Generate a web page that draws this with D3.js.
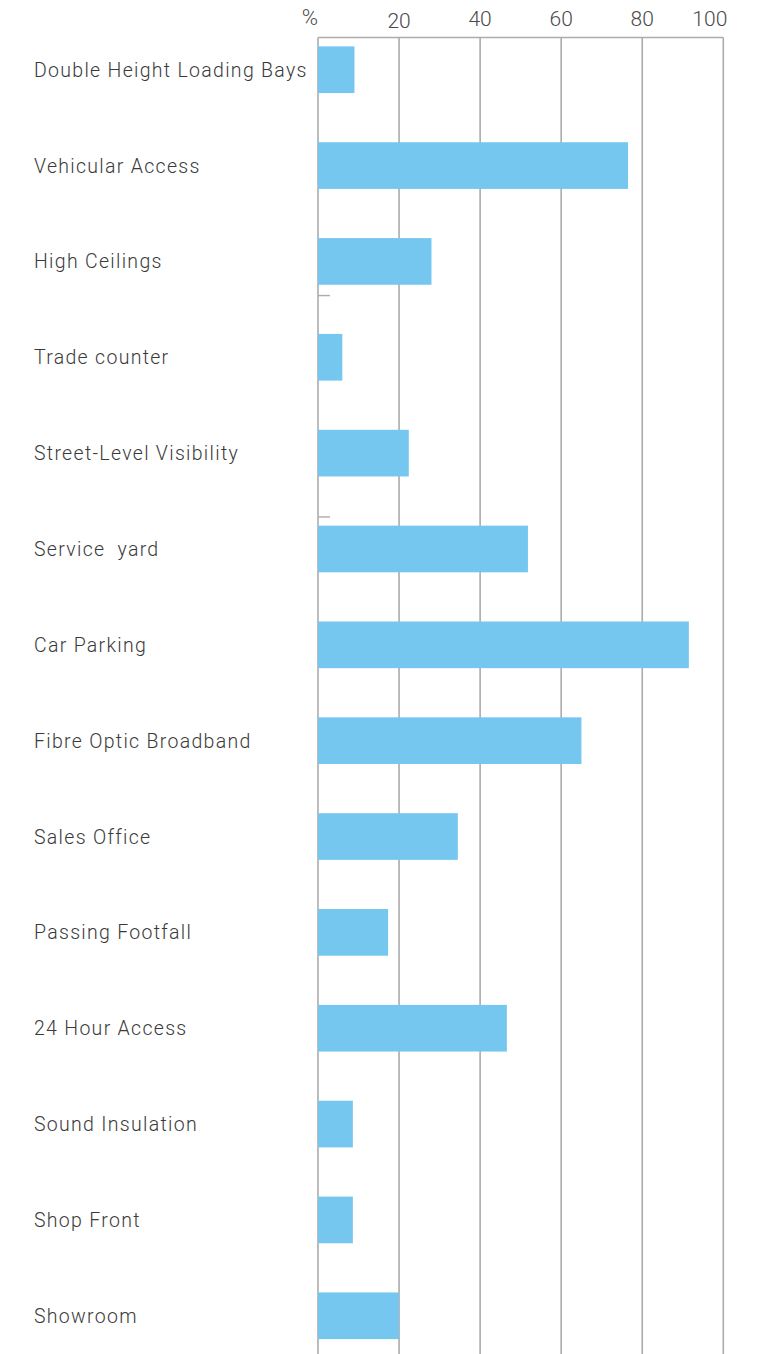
<!DOCTYPE html>
<html>
<head>
<meta charset="utf-8">
<script src="https://cdn.jsdelivr.net/npm/d3@7"></script>
<style>
  html, body { margin: 0; padding: 0; background: #fff; }
  svg { display: block; }
</style>
</head>
<body>
<svg id="chart" width="760" height="1354"></svg>
<script>
// Facility features and the share of respondents (%) who want each one
const categories = [
  "Double Height Loading Bays",
  "Vehicular Access",
  "High Ceilings",
  "Trade counter",
  "Street-Level Visibility",
  "Service  yard",
  "Car Parking",
  "Fibre Optic Broadband",
  "Sales Office",
  "Passing Footfall",
  "24 Hour Access",
  "Sound Insulation",
  "Shop Front",
  "Showroom"
];
const values = [9, 76.5, 28, 6, 22.4, 51.8, 91.5, 65, 34.5, 17.3, 46.6, 8.6, 8.6, 20];
const tickValues = [20, 40, 60, 80, 100];
const unitLabel = "%";

const svg = d3.select("#chart");
const chartH = 1354;
const plotLeft = 318, plotRight = 723.3, plotTop = 37.5;

const x = d3.scaleLinear().domain([0, 100]).range([plotLeft, plotRight]);
const y = d3.scaleBand()
  .domain(categories)
  .range([21.8, 21.8 + 95.85 * categories.length])
  .paddingInner(0.513)
  .paddingOuter(0.2565);

const gridColor = "#acacac";

// vertical grid lines including the zero line
svg.append("g")
  .selectAll("line")
  .data([0].concat(tickValues))
  .join("line")
  .attr("x1", d => x(d)).attr("x2", d => x(d))
  .attr("y1", plotTop).attr("y2", chartH)
  .attr("stroke", gridColor)
  .attr("stroke-width", 1.6);

// top baseline
svg.append("line")
  .attr("x1", x(0)).attr("x2", x(100))
  .attr("y1", plotTop).attr("y2", plotTop)
  .attr("stroke", gridColor)
  .attr("stroke-width", 1.6);

// bars
svg.append("g")
  .selectAll("rect")
  .data(values)
  .join("rect")
  .attr("x", x(0))
  .attr("y", (d, i) => y(categories[i]))
  .attr("width", d => x(d) - x(0))
  .attr("height", y.bandwidth())
  .attr("fill", "#76c7f0");

// short stub marks on the value axis
const stubs = [y(categories[2]) + y.bandwidth() + 10.8, y(categories[4]) + y.bandwidth() + 40.5];
svg.append("g")
  .selectAll("line")
  .data(stubs)
  .join("line")
  .attr("x1", x(0)).attr("x2", x(0) + 12)
  .attr("y1", d => d).attr("y2", d => d)
  .attr("stroke", gridColor)
  .attr("stroke-width", 1.4);

// category labels
svg.append("g")
  .selectAll("text")
  .data(categories)
  .join("text")
  .attr("x", 34)
  .attr("y", d => y(d) + y.bandwidth() / 2)
  .attr("dy", "0.36em")
  .attr("font-family", "Roboto, sans-serif")
  .attr("font-weight", 300)
  .attr("font-size", 19.5)
  .attr("letter-spacing", 1.3)
  .attr("fill", "#3a3a3a")
  .style("white-space", "pre")
  .text(d => d);

// axis tick labels along the top
const tickG = svg.append("g")
  .attr("font-family", "Roboto, sans-serif")
  .attr("font-weight", 300)
  .attr("font-size", 21)
  .attr("fill", "#4a4a4a");

tickG.selectAll("text")
  .data(tickValues)
  .join("text")
  .attr("x", d => d === 100 ? x(d) + 4 : x(d))
  .attr("y", d => d === 20 ? 28 : 26)
  .attr("text-anchor", d => d === 100 ? "end" : "middle")
  .text(d => d);

tickG.append("text")
  .attr("x", x(0))
  .attr("y", 25)
  .attr("font-size", 22)
  .attr("text-anchor", "end")
  .text(unitLabel);
</script>
</body>
</html>
